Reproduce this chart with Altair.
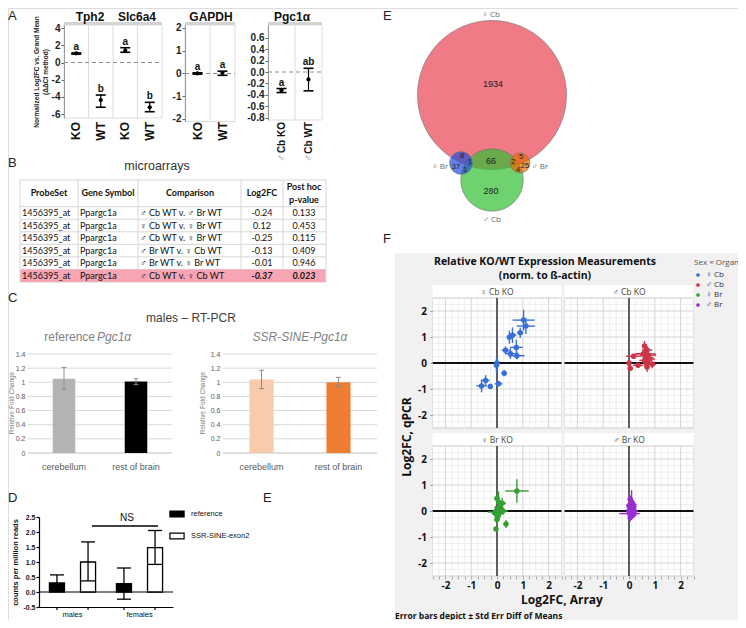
import altair as alt
import pandas as pd

# ====================== DATA ======================
# Panel A : normalized Log2FC vs grand mean (ddCt method)
A1_IDS = ['Tph2 KO', 'Tph2 WT', 'Slc6a4 KO', 'Slc6a4 WT']
A1_LABELS = ['KO', 'WT', 'KO', 'WT']
A1_MEAN = [1.07, -4.36, 1.37, -5.20]
A1_LO = [0.97, -5.20, 1.19, -5.72]
A1_HI = [1.12, -3.78, 1.72, -4.63]
A1_LETTERS = ['a', 'b', 'a', 'b']
A1_TICKS = [-6, -4, -2, 0, 2, 4]

A2_IDS = ['GAPDH KO', 'GAPDH WT']
A2_LABELS = ['KO', 'WT']
A2_MEAN = [0.00, 0.03]
A2_LO = [-0.03, -0.08]
A2_HI = [0.03, 0.10]
A2_LETTERS = ['a', 'a']
A2_TICKS = [-2, -1, 0, 1, 2]

A3_IDS = ['Pgc1a Cb KO', 'Pgc1a Cb WT']
A3_LABELS = ['Cb KO', 'Cb WT']
A3_MEAN = [-0.32, -0.13]
A3_LO = [-0.36, -0.33]
A3_HI = [-0.29, 0.065]
A3_LETTERS = ['a', 'ab']
A3_TICKS = [-0.8, -0.6, -0.4, -0.2, 0.0, 0.2, 0.4, 0.6]

# Panel B : microarray table
B_PROBE = ['1456395_at'] * 6
B_GENE = ['Ppargc1a'] * 6
B_COMP = ['♂ Cb WT v. ♂ Br WT', '♀ Cb WT v. ♀ Br WT', '♂ Cb WT v. ♀ Br WT',
          '♂ Br WT v. ♀ Cb WT', '♂ Br WT v. ♀ Br WT', '♂ Cb WT v. ♀ Cb WT']
B_LOG2FC = [-0.24, 0.12, -0.25, -0.13, -0.01, -0.37]
B_PVAL = [0.133, 0.453, 0.115, 0.409, 0.946, 0.023]

# Panel C : RT-PCR relative fold change
C_CATS = ['cerebellum', 'rest of brain']
C_REF = [1.05, 1.01]
C_REF_LO = [0.90, 0.97]
C_REF_HI = [1.21, 1.05]
C_SSR = [1.04, 1.00]
C_SSR_LO = [0.91, 0.94]
C_SSR_HI = [1.17, 1.07]
C_TICKS = [0, 0.2, 0.4, 0.6, 0.8, 1, 1.2, 1.4]

# Panel D : counts per million reads
D_SEXES = ['males', 'females']
D_TYPES = ['reference', 'SSR-SINE-exon2']
D_SEX = ['males', 'males', 'females', 'females']
D_TYPE = ['reference', 'SSR-SINE-exon2', 'reference', 'SSR-SINE-exon2']
D_MEAN = [0.30, 1.00, 0.28, 1.48]
D_LO = [0.03, 0.37, -0.24, 0.92]
D_HI = [0.57, 1.67, 0.80, 2.05]
D_TICKS = [-0.5, 0, 0.5, 1, 1.5, 2, 2.5]

# Panel E : Venn diagram of region counts
E_SETS = ['♀ Cb', '♂ Cb', '♀ Br', '♂ Br']
E_REG_COUNTS = [1934, 280, 66, 8, 37, 1, 1, 5, 25, 2, 4]
E_REG_MEMBERS = [['♀ Cb'], ['♂ Cb'], ['♀ Cb', '♂ Cb'], ['♀ Cb', '♀ Br'], ['♀ Br'],
                 ['♀ Cb', '♂ Cb', '♀ Br'], ['♂ Cb', '♀ Br'], ['♀ Cb', '♂ Br'], ['♂ Br'],
                 ['♀ Cb', '♂ Cb', '♂ Br'], ['♂ Cb', '♂ Br']]

# Panel F : KO/WT log2FC qPCR vs array
F_GROUPS = ['♀ Cb', '♂ Cb', '♀ Br', '♂ Br']
F_TITLES = ['♀ Cb KO', '♂ Cb KO', '♀ Br KO', '♂ Br KO']
F_X = [
    [1.03, 1.12, 0.90, 0.48, 0.60, 0.33, 0.52, 0.75, 0.77, 0.00, -0.02, 0.28, 0.06, -0.44, -0.60, -0.26],
    [0.00, 0.18, 0.05, 0.35, 0.60, 0.70, 0.65, 0.75, 0.55, 0.80, 0.70, 0.90, 0.70, 0.60, 0.75],
    [0.77, 0.00, 0.06, 0.20, 0.13, 0.00, -0.06, 0.13, 0.23, 0.03, 0.00, 0.35, -0.04, -0.06],
    [0.05, 0.10, 0.15, 0.00, 0.08, 0.20, 0.10, 0.02, 0.15, 0.05, 0.12, 0.00, 0.18, 0.08],
]
F_Y = [
    [1.65, 1.42, 1.16, 0.99, 1.07, 0.49, 0.36, 0.60, 0.28, 0.00, -0.09, -0.39, -0.80, -0.67, -0.88, -0.90],
    [0.00, 0.26, -0.20, -0.09, 0.65, 0.50, 0.35, 0.30, 0.35, 0.15, 0.00, -0.05, -0.15, 0.10, 0.20],
    [0.77, 0.48, 0.35, 0.30, 0.15, 0.03, -0.04, -0.04, 0.00, -0.20, -0.33, -0.50, -0.69, -0.10],
    [0.45, 0.35, 0.25, 0.20, 0.10, 0.00, -0.05, -0.10, -0.15, -0.25, 0.30, 0.00, 0.15, -0.20],
]
F_XERR = [
    [0.43, 0.35, 0.12, 0.10, 0.15, 0.15, 0.20, 0.25, 0.30, 0.08, 0.05, 0.10, 0.15, 0.15, 0.20, 0.10],
    [0.08, 0.30, 0.10, 0.20, 0.10, 0.20, 0.40, 0.30, 0.30, 0.20, 0.15, 0.15, 0.10, 0.20, 0.20],
    [0.45, 0.10, 0.10, 0.15, 0.10, 0.10, 0.30, 0.15, 0.20, 0.10, 0.10, 0.08, 0.05, 0.15],
    [0.10, 0.10, 0.15, 0.10, 0.15, 0.15, 0.10, 0.40, 0.15, 0.10, 0.10, 0.10, 0.10, 0.10],
]
F_YERR = [
    [0.40, 0.30, 0.20, 0.25, 0.30, 0.15, 0.20, 0.30, 0.15, 0.10, 0.30, 0.12, 0.10, 0.20, 0.25, 0.10],
    [0.08, 0.10, 0.10, 0.10, 0.20, 0.15, 0.20, 0.20, 0.15, 0.20, 0.20, 0.15, 0.20, 0.20, 0.20],
    [0.45, 0.15, 0.40, 0.20, 0.20, 0.15, 0.20, 0.20, 0.15, 0.20, 0.20, 0.15, 0.05, 0.30],
    [0.15, 0.45, 0.15, 0.15, 0.15, 0.10, 0.20, 0.20, 0.10, 0.15, 0.15, 0.10, 0.15, 0.15],
]
F_MAJOR = [-2, -1, 1, 2]
F_MINOR = [i / 4 for i in range(-10, 11) if i % 4 != 0]

# ====================== STYLE / LAYOUT ======================
OFF = 8
W, H = 730, 612
FONT = 'Liberation Sans'
FONT_F = 'Open Sans'
FONT_T = 'Lato'

C_REF_COLORS = ['#b3b3b3', '#000000']
C_SSR_COLORS = ['#f8cbad', '#ed7d31']
E_COLORS = ['#ea4252', '#30bf30', '#234cdb', '#ea6a00']
F_COLORS = ['#3a6fd8', '#cc3548', '#33a033', '#9a2dd4']
B_EDGES = [20, 78, 138, 241, 283, 326]

LAYERS = []


def P(v):
    return v - OFF


def add(ch):
    LAYERS.append(ch)


def one():
    return alt.Data(values=[{'k': 0}])


def lin(dom, a, b):
    return alt.Scale(domain=list(dom), range=[P(a), P(b)], nice=False, zero=False)


def AX(**kw):
    d = dict(zindex=1, grid=False)
    d.update(kw)
    return alt.Axis(**d)


def text(t, x, y, size=10, weight='normal', color='#222222', align='center',
         baseline='middle', angle=0, style='normal', font=FONT):
    add(alt.Chart(alt.Data(values=[{'t': t}])).mark_text(
        fontSize=size, fontWeight=weight, color=color, align=align, baseline=baseline,
        angle=angle, fontStyle=style, font=font
    ).encode(text='t:N', x=alt.value(P(x)), y=alt.value(P(y))))


def rect(x0, x1, y0, y1, fill, stroke=None, sw=1.0):
    kw = dict(fill=fill)
    if stroke is not None:
        kw.update(stroke=stroke, strokeWidth=sw)
    add(alt.Chart(one()).mark_rect(**kw).encode(
        x=alt.value(P(x0)), x2=alt.value(P(x1)), y=alt.value(P(y0)), y2=alt.value(P(y1))))


def hline(x0, x1, y, color, sw=1.0):
    add(alt.Chart(one()).mark_rule(color=color, strokeWidth=sw).encode(
        x=alt.value(P(x0)), x2=alt.value(P(x1)), y=alt.value(P(y))))


def vline(x, y0, y1, color, sw=1.0):
    add(alt.Chart(one()).mark_rule(color=color, strokeWidth=sw).encode(
        x=alt.value(P(x)), y=alt.value(P(y0)), y2=alt.value(P(y1))))


def hrule_at(vals, ys, x0, x1, color, sw=1.0, dash=None):
    kw = dict(color=color, strokeWidth=sw)
    if dash:
        kw['strokeDash'] = dash
    add(alt.Chart(pd.DataFrame({'v': vals})).mark_rule(**kw).encode(
        y=alt.Y('v:Q', scale=ys, axis=None), x=alt.value(P(x0)), x2=alt.value(P(x1))))


def vrule_at(vals, xs, y0, y1, color, sw=1.0, axis=None):
    add(alt.Chart(pd.DataFrame({'v': vals})).mark_rule(color=color, strokeWidth=sw).encode(
        x=alt.X('v:Q', scale=xs, axis=axis, title=None), y=alt.value(P(y0)), y2=alt.value(P(y1))))


INT_LABEL = "'' + datum.value"
DEC1_LABEL = "replace(format(datum.value, '.1f'), '\u2212', '-')"

# ====================== PANEL LETTERS ======================
for letter, lx, ly, bl in [('A', 8, 10, 'top'), ('B', 8, 162.5, 'middle'), ('C', 8, 298, 'middle'),
                           ('D', 8, 498, 'middle'), ('E', 263, 498, 'middle'),
                           ('E', 383, 10, 'top'), ('F', 383, 239, 'middle')]:
    text(letter, lx, ly, 13, color='#222222', align='left', baseline=bl)


# ====================== PANEL A ======================
def panel_a(ids, labels, mean, lo, hi, letters, ticks, lexpr, bx, dom, headers,
            ytitle=None, lab_size=12, male=False):
    x0, x1, y0, y1 = bx
    df = pd.DataFrame({'id': ids, 'lab': labels, 'm': mean, 'lo': lo, 'hi': hi, 'let': letters})
    xs = alt.Scale(type='point', domain=ids, range=[P(x0), P(x1)], padding=0.5)
    xb = alt.Scale(type='band', domain=ids, range=[P(x0), P(x1)], paddingInner=0, paddingOuter=0)
    ys = lin(dom, y1, y0)
    X = alt.X('id:N', scale=xs, axis=None)
    rect(x0, x1, y0, y1, 'white', '#dddddd', 1)
    rect(x0, x1, y0 - 3, y0, '#d3d3d3')
    add(alt.Chart(df.iloc[1:]).mark_rule(color='#dddddd').encode(
        x=alt.X('id:N', scale=xb, axis=None, bandPosition=0),
        y=alt.value(P(y0)), y2=alt.value(P(y1))))
    hrule_at([0], ys, x0, x1, '#8c8c8c', 1.0, [4, 3])
    add(alt.Chart(df).mark_rule(color='black', strokeWidth=1.2).encode(
        x=X, y=alt.Y('lo:Q', scale=ys, axis=None), y2=alt.Y2('hi')))
    for f in ('lo', 'hi'):
        add(alt.Chart(df).mark_point(shape='stroke', size=100, strokeWidth=1.6, color='black',
                                     opacity=1).encode(
            x=X, y=alt.Y(f + ':Q', scale=ys, axis=None)))
    ax = dict(orient='left', offset=-P(x0), values=ticks, labelExpr=lexpr, labelFont=FONT,
              labelFontSize=10, labelFontWeight='bold', labelColor='#222222', tickSize=3,
              tickColor='#666666', domainColor='#999999', labelPadding=1)
    if ytitle:
        ax.update(titleFont=FONT, titleFontSize=6.5, titleFontWeight='bold',
                  titleColor='#222222', titlePadding=3)
    add(alt.Chart(df).mark_point(filled=True, size=18, color='black', opacity=1).encode(
        x=X, y=alt.Y('m:Q', scale=ys, axis=AX(**ax), title=ytitle)))
    add(alt.Chart(df).mark_text(dy=-3, fontSize=10, fontWeight='bold', font=FONT,
                                color='#111111', baseline='alphabetic').encode(
        x=X, y=alt.Y('hi:Q', scale=ys, axis=None), text='let:N'))
    add(alt.Chart(df).mark_text(angle=270, align='right', baseline='middle', fontSize=lab_size,
                                fontWeight='bold', font=FONT, color='#111111').encode(
        x=X, y=alt.value(P(122)), text='lab:N'))
    if male:
        add(alt.Chart(df).mark_text(angle=270, align='right', baseline='middle', fontSize=11,
                                    font=FONT, color='#8a8a8a', text='♂').encode(
            x=X, y=alt.value(P(154))))
    for name, cx in headers:
        text(name, cx, y0 - 8, 12, 'bold', '#111111')


panel_a(A1_IDS, A1_LABELS, A1_MEAN, A1_LO, A1_HI, A1_LETTERS, A1_TICKS, INT_LABEL,
        (64, 162, 25, 118), (-6.45, 4.36), [('Tph2', 90), ('Slc6a4', 137)],
        ytitle=['Normalized Log2FC vs. Grand Mean', '(ΔΔCt method)'])
panel_a(A2_IDS, A2_LABELS, A2_MEAN, A2_LO, A2_HI, A2_LETTERS, A2_TICKS, INT_LABEL,
        (185, 235, 25, 121.5), (-2.11, 2.13), [('GAPDH', 211)])
panel_a(A3_IDS, A3_LABELS, A3_MEAN, A3_LO, A3_HI, A3_LETTERS, A3_TICKS, DEC1_LABEL,
        (268, 322, 25, 120), (-0.842, 0.825), [('Pgc1α', 292)], lab_size=10, male=True)

# ====================== PANEL B ======================
text('microarrays', 157, 166, 12.5, color='#333333')
TB = pd.DataFrame({'row': list(range(6)), 'probe': B_PROBE, 'gene': B_GENE, 'comp': B_COMP,
                   'fc': B_LOG2FC, 'p': B_PVAL})
rs = lin([0, 6], 206.7, 282)
hline(B_EDGES[0], B_EDGES[-1], 180, '#d6d6d6')
hrule_at(list(range(7)), rs, B_EDGES[0], B_EDGES[-1], '#d6d6d6', 1)
for e in B_EDGES:
    vline(e, 180, 282, '#d6d6d6')
add(alt.Chart(TB).transform_filter('datum.row == 5').transform_calculate(r1='datum.row + 1')
    .mark_rect(fill='#f7a4b3').encode(
        y=alt.Y('row:Q', scale=rs, axis=None), y2=alt.Y2('r1'),
        x=alt.value(P(B_EDGES[0] + 0.5)), x2=alt.value(P(B_EDGES[-1] - 0.5))))
for name, cx, cy in [('ProbeSet', 49, 193), ('Gene Symbol', 108, 193), ('Comparison', 190, 193),
                     ('Log2FC', 262, 193), ('Post hoc', 304, 187), ('p-value', 304, 200)]:
    text(name, cx, cy, 9, 'bold', '#111111', font=FONT_T)

TBC = alt.Chart(TB).transform_calculate(
    rc='datum.row + 0.5',
    fct="replace(format(datum.fc, '.2f'), '\u2212', '-')",
    pt="format(datum.p, '.3f')")


def tcol(field, x, align, filt, weight='normal', style='normal'):
    add(TBC.transform_filter(filt).mark_text(
        align=align, baseline='middle', font=FONT_T, fontSize=9, fontWeight=weight,
        fontStyle=style, color='#111111').encode(
        text=alt.Text(field + ':N'), x=alt.value(P(x)), y=alt.Y('rc:Q', scale=rs, axis=None)))


for fld, x, al in [('probe', 22, 'left'), ('gene', 80, 'left'), ('comp', 140, 'left')]:
    tcol(fld, x, al, 'datum.row >= 0')
tcol('fct', 262, 'center', 'datum.row < 5')
tcol('pt', 304, 'center', 'datum.row < 5')
tcol('fct', 262, 'center', 'datum.row == 5', 'bold', 'italic')
tcol('pt', 304, 'center', 'datum.row == 5', 'bold', 'italic')

# ====================== PANEL C ======================
text('males – RT-PCR', 191, 318, 12, color='#404040')
text('reference', 95, 337, 12, color='#7f7f7f', align='right')
text('Pgc1α', 97, 337, 12, color='#7f7f7f', align='left', style='italic')
text('SSR-SINE-Pgc1α', 300, 337, 12, color='#7f7f7f', style='italic')
text('Relative Fold Change', 11.5, 403, 6.5, color='#7f7f7f', angle=270)
text('Relative Fold Change', 203, 403, 6.5, color='#7f7f7f', angle=270)


def panel_c(vals, lo, hi, cols, x0, x1, y0=354, y1=453):
    df = pd.DataFrame({'c': C_CATS, 'v': vals, 'lo': lo, 'hi': hi})
    xb = alt.Scale(type='band', domain=C_CATS, range=[P(x0), P(x1)],
                   paddingInner=0.687, paddingOuter=0.3435)
    ys = lin([0, 1.4], y1, y0)
    hrule_at(C_TICKS[1:], ys, x0, x1, '#d9d9d9', 1)
    hrule_at([0], ys, x0, x1, '#bfbfbf', 1)
    add(alt.Chart(df).mark_bar().encode(
        x=alt.X('c:N', scale=xb, title=None,
                axis=AX(orient='bottom', offset=P(y1) - H, ticks=False, domain=False,
                        labelFont=FONT, labelFontSize=9, labelColor='#595959',
                        labelPadding=9, labelAngle=0)),
        y=alt.Y('v:Q', scale=ys, title=None,
                axis=AX(orient='left', offset=-P(x0), values=C_TICKS, labelExpr=INT_LABEL,
                        ticks=False, domain=False, labelFont=FONT, labelFontSize=7,
                        labelColor='#595959', labelPadding=3)),
        color=alt.Color('c:N', scale=alt.Scale(domain=C_CATS, range=cols), legend=None)))
    XC = alt.X('c:N', scale=xb, axis=None, bandPosition=0.5)
    add(alt.Chart(df).mark_rule(color='#8c8c8c', strokeWidth=1).encode(
        x=XC, y=alt.Y('lo:Q', scale=ys, axis=None), y2=alt.Y2('hi')))
    for f in ('lo', 'hi'):
        add(alt.Chart(df).mark_point(shape='stroke', size=25, strokeWidth=1, color='#8c8c8c',
                                     opacity=1).encode(
            x=XC, y=alt.Y(f + ':Q', scale=ys, axis=None)))


panel_c(C_REF, C_REF_LO, C_REF_HI, C_REF_COLORS, 28, 172)
panel_c(C_SSR, C_SSR_LO, C_SSR_HI, C_SSR_COLORS, 223, 377)

# ====================== PANEL D ======================
dd = pd.DataFrame({'sex': D_SEX, 'type': D_TYPE, 'm': D_MEAN, 'lo': D_LO, 'hi': D_HI})
DX0, DX1, DY0, DY1 = 39, 173, 517, 607
dxs = alt.Scale(type='band', domain=D_SEXES, range=[P(DX0), P(DX1)], paddingInner=0.2, paddingOuter=0.1)
dos = alt.Scale(type='band', domain=D_TYPES, paddingInner=0.516, paddingOuter=0.12)
dys = lin([-0.5, 2.5], DY1, DY0)
DX = alt.X('sex:N', scale=dxs, axis=None)
DXO = alt.XOffset('type:N', scale=dos)
hrule_at([0], dys, DX0, DX1, '#000000', 1.2)
add(alt.Chart(dd).mark_bar(stroke='black', strokeWidth=1.3).encode(
    x=alt.X('sex:N', scale=dxs, title=None,
            axis=AX(orient='bottom', offset=P(DY1) - H, ticks=False, domainColor='#000000',
                    domainWidth=1.2, labelFont=FONT, labelFontSize=7.5, labelColor='#111111',
                    labelPadding=3, labelAngle=0)),
    xOffset=DXO,
    y=alt.Y('m:Q', scale=dys, title='counts per million reads',
            axis=AX(orient='left', offset=-P(DX0), values=D_TICKS, labelExpr=DEC1_LABEL,
                    labelFont=FONT, labelFontSize=7, labelFontWeight='bold', labelColor='#111111',
                    tickSize=3, tickColor='#000000', tickWidth=1.2, domainColor='#000000',
                    domainWidth=1.2, labelPadding=1, titleFont=FONT, titleFontSize=7.5,
                    titleFontWeight='bold', titleColor='#111111', titlePadding=3)),
    fill=alt.Fill('type:N', scale=alt.Scale(domain=D_TYPES, range=['#000000', '#ffffff']),
                  legend=alt.Legend(orient='none', legendX=P(170), legendY=P(507), title=None,
                                    labelFont=FONT, labelFontSize=7.5, labelColor='#111111',
                                    symbolType='M-1.2,-0.5H1.2V0.5H-1.2Z', symbolSize=140,
                                    symbolStrokeColor='black', symbolStrokeWidth=1.2,
                                    rowPadding=9, labelOffset=7, zindex=1))))
add(alt.Chart(dd).mark_rule(color='black', strokeWidth=1.3).encode(
    x=DX, xOffset=DXO, y=alt.Y('lo:Q', scale=dys, axis=None), y2=alt.Y2('hi')))
for f in ('lo', 'hi'):
    add(alt.Chart(dd).mark_point(shape='stroke', size=196, strokeWidth=1.3, color='black',
                                 opacity=1).encode(
        x=DX, xOffset=DXO, y=alt.Y(f + ':Q', scale=dys, axis=None)))
add(alt.Chart(dd).mark_rule(color='black', strokeWidth=1.2).encode(
    x=DX, xOffset=DXO, y=alt.value(P(DY1)), y2=alt.value(P(DY1 + 3))))
hline(92, 158, 526, '#000000', 1.5)
text('NS', 127, 518, 10, color='#111111')

# ====================== PANEL E (Venn) ======================
E_TOTALS = [sum(c for c, m in zip(E_REG_COUNTS, E_REG_MEMBERS) if s in m) for s in E_SETS]
E_MAX_R = 74.5                                      # px radius of the largest set
E_CX = [0, 0, -31, 28]                               # set centres (layout units = px)
E_CY = [0, -85, -68, -68]
E_REG_X = [1, -1, -1, -30, -36, -22, -27, 29, 33, 21, 26]
E_REG_Y = [11, -96, -66, -61, -72, -67, -75, -62, -71, -67, -75]
E_LAB_X = [-1, 0, -52, 48]
E_LAB_Y = [80, -125, -72, -72]
exs = lin([-100, 100], 392, 592)
eys = lin([-100, 100], 195, -5)
ev = pd.DataFrame({'set': E_SETS, 'cx': E_CX, 'cy': E_CY, 'tot': E_TOTALS,
                   'lx': E_LAB_X, 'ly': E_LAB_Y})
add(alt.Chart(ev).mark_point(filled=True, shape='circle', opacity=1, fillOpacity=0.7,
                             stroke='#6e6e6e', strokeWidth=0.6, strokeOpacity=1).encode(
    x=alt.X('cx:Q', scale=exs, axis=None), y=alt.Y('cy:Q', scale=eys, axis=None),
    size=alt.Size('tot:Q', scale=alt.Scale(type='linear', domain=[0, max(E_TOTALS)],
                                           range=[0, (2 * E_MAX_R) ** 2]), legend=None),
    fill=alt.Fill('set:N', scale=alt.Scale(domain=E_SETS, range=E_COLORS), legend=None)))
er = pd.DataFrame({'n': E_REG_COUNTS, 'x': E_REG_X, 'y': E_REG_Y})
add(alt.Chart(er).transform_filter('datum.n >= 60').mark_text(fontSize=9, font=FONT, color='#222222').encode(
    x=alt.X('x:Q', scale=exs, axis=None), y=alt.Y('y:Q', scale=eys, axis=None), text='n:Q'))
add(alt.Chart(er).transform_filter('datum.n < 60').mark_text(fontSize=7.5, font=FONT, color='#222222').encode(
    x=alt.X('x:Q', scale=exs, axis=None), y=alt.Y('y:Q', scale=eys, axis=None), text='n:Q'))
add(alt.Chart(ev).mark_text(fontSize=8, font=FONT_F, color='#666666').encode(
    x=alt.X('lx:Q', scale=exs, axis=None), y=alt.Y('ly:Q', scale=eys, axis=None), text='set:N'))

# ====================== PANEL F ======================
rect(395, 738, 253, 620, '#f1f1f1')
text('Relative KO/WT Expression Measurements', 545, 262, 10.5, 'bold', '#111111', font=FONT_F)
text('(norm. to ß-actin)', 545, 276, 10.5, 'bold', '#111111', font=FONT_F)
F_BOXES = [(432.5, 561.5, 298, 428), (564.5, 693.5, 298, 428),
           (432.5, 561.5, 446, 576), (564.5, 693.5, 446, 576)]


def panel_f(i, show_y, show_x, legend):
    x0, x1, y0, y1 = F_BOXES[i]
    xsc = lin([-2.5, 2.5], x0, x1)
    ysc = lin([-2.5, 2.5], y1, y0)
    rect(x0, x1, y0 - 13, y0, 'white')
    text(F_TITLES[i], (x0 + x1) / 2, y0 - 6.5, 8.5, 'normal', '#444444', font=FONT_F)
    rect(x0, x1, y0, y1, 'white', '#bdbdbd', 1)
    minor_ax = AX(orient='bottom', offset=P(y1) - H, values=F_MINOR + F_MAJOR + [0], labels=False,
                  tickSize=3, tickColor='#aaaaaa', domain=False) if show_x else None
    vrule_at(F_MINOR, xsc, y0, y1, '#ececec', 0.8, minor_ax)
    hrule_at(F_MINOR, ysc, x0, x1, '#ececec', 0.8)
    vrule_at(F_MAJOR, xsc, y0, y1, '#d4d4d4', 1)
    hrule_at(F_MAJOR, ysc, x0, x1, '#d4d4d4', 1)
    hrule_at([0], ysc, x0, x1, '#111111', 1.8)
    vrule_at([0], xsc, y0, y1, '#4d4d4d', 1.8)
    df = pd.DataFrame({'x': F_X[i], 'y': F_Y[i], 'xe': F_XERR[i], 'ye': F_YERR[i],
                       'g': [F_GROUPS[i]] * len(F_X[i])})
    base = alt.Chart(df).transform_calculate(
        xl='datum.x - datum.xe', xh='datum.x + datum.xe',
        yl='datum.y - datum.ye', yh='datum.y + datum.ye')
    col = F_COLORS[i]
    add(base.mark_rule(color=col, strokeWidth=1.4).encode(
        x=alt.X('xl:Q', scale=xsc, axis=None), x2=alt.X2('xh'),
        y=alt.Y('y:Q', scale=ysc, axis=None)))
    add(base.mark_rule(color=col, strokeWidth=1.4).encode(
        x=alt.X('x:Q', scale=xsc, axis=None),
        y=alt.Y('yl:Q', scale=ysc, axis=None), y2=alt.Y2('yh')))
    xax = AX(orient='bottom', offset=P(y1) - H, values=[-2, -1, 0, 1, 2], labelExpr=INT_LABEL,
             labelFont=FONT_F, labelFontSize=10, labelFontWeight='bold', labelColor='#111111',
             ticks=False, domain=False, labelPadding=4) if show_x else None
    yax = AX(orient='left', offset=-P(x0), values=[-2, -1, 0, 1, 2], labelExpr=INT_LABEL,
             labelFont=FONT_F, labelFontSize=10, labelFontWeight='bold', labelColor='#111111',
             tickSize=3, tickColor='#aaaaaa', domain=False, labelPadding=3) if show_y else None
    leg = alt.Legend(orient='none', legendX=P(694), legendY=P(259), title='Sex × Organ',
                     titleFont=FONT_F, titleFontSize=8, titleFontWeight='normal',
                     titleColor='#555555', labelFont=FONT_F, labelFontSize=8,
                     labelColor='#333333', symbolSize=14, symbolType='circle', rowPadding=2,
                     titlePadding=4, zindex=1) if legend else None
    add(base.mark_point(filled=True, size=30, opacity=1).encode(
        x=alt.X('x:Q', scale=xsc, axis=xax, title=None),
        y=alt.Y('y:Q', scale=ysc, axis=yax, title=None),
        color=alt.Color('g:N', scale=alt.Scale(domain=F_GROUPS, range=F_COLORS), legend=leg)))


panel_f(0, True, False, True)
panel_f(1, False, False, False)
panel_f(2, True, True, False)
panel_f(3, False, True, False)
text('Log2FC, qPCR', 407, 437, 12, 'bold', '#111111', angle=270, font=FONT_F)
text('Log2FC, Array', 562, 600, 12, 'bold', '#111111', font=FONT_F)
text('Error bars depict ± Std Err Diff of Means', 395, 615.5, 8.5, 'bold', '#111111',
     align='left', font=FONT_F)

# ====================== ASSEMBLE ======================
chart = alt.layer(*LAYERS).properties(
    width=W, height=H, padding=0, autosize=alt.AutoSizeParams(type='none')
).resolve_scale(
    x='independent', y='independent', color='independent', fill='independent',
    size='independent', xOffset='independent'
).configure_view(stroke=None).configure(font=FONT)

chart.save("out.html", embed_options={"renderer": "svg", "actions": False})
